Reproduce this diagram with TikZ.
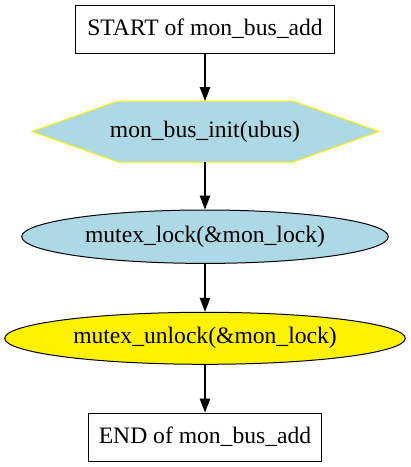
\documentclass[tikz,border=0pt]{standalone}
\usepackage{fontspec}
\setmainfont{Liberation Serif}
\usetikzlibrary{arrows.meta,shapes.geometric}
\definecolor{lblue}{HTML}{ADD8E6}
\begin{document}
\begin{tikzpicture}[x=1pt,y=-1pt,
  lbl/.style={font=\rmfamily\fontsize{23.6}{26}\selectfont, inner sep=0pt},
  boxnode/.style={draw=black, line width=1pt, fill=white, minimum width=#1, minimum height=48pt, inner sep=0pt},
  ellnode/.style={ellipse, draw=black, line width=1pt, inner sep=0pt},
  conn/.style={draw=black, line width=1.1pt, -{Triangle[length=14pt,width=10.5pt]}}]
\useasboundingbox (0,0) rectangle (411,467);
\node[boxnode=259pt] (start) at (205,29) {};
\node[lbl] at (start.center) {START of mon\_bus\_add};
\filldraw[fill=lblue, draw=yellow, line width=1pt] (32,131.5) -- (118,101) -- (293,101) -- (379,131.5) -- (293,162) -- (118,162) -- cycle;
\coordinate (hextop) at (205,101);
\coordinate (hexbot) at (205,162);
\node[lbl] (hex) at (205,131.5) {mon\_bus\_init(ubus)};
\node[ellnode, fill=lblue, minimum width=366.6pt, minimum height=53.4pt] (lock) at (205,236.7) {};
\node[lbl] at (lock.center) {mutex\_lock(\&mon\_lock)};
\node[ellnode, fill=yellow, minimum width=400.6pt, minimum height=52pt] (unlock) at (205,338.3) {};
\node[lbl] at (unlock.center) {mutex\_unlock(\&mon\_lock)};
\node[boxnode=233pt] (end) at (205,437) {};
\node[lbl] at (end.center) {END of mon\_bus\_add};
\draw[conn] (start.south) -- (hextop);
\draw[conn] (hexbot) -- (lock.north);
\draw[conn] (lock.south) -- (unlock.north);
\draw[conn] (unlock.south) -- (end.north);
\end{tikzpicture}
\end{document}
